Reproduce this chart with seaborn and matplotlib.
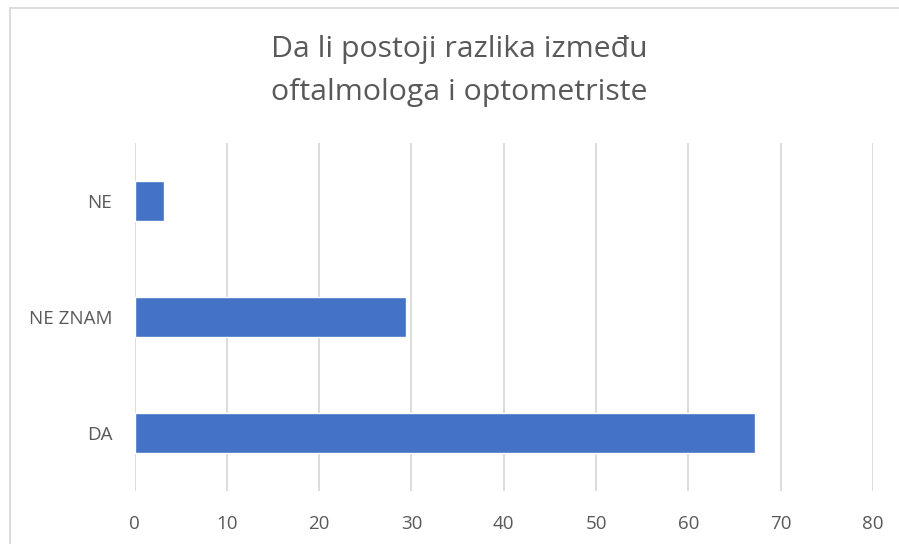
import matplotlib
matplotlib.use("Agg")
import matplotlib.pyplot as plt
from matplotlib.patches import Rectangle
import seaborn as sns
import pandas as pd

# data
categories = ["NE", "NE ZNAM", "DA"]
values = [3.2, 29.45, 67.2]
x_ticks = [0, 10, 20, 30, 40, 50, 60, 70, 80]

sns.set_style("white")
plt.rcParams["font.family"] = ["Open Sans", "DejaVu Sans"]

df = pd.DataFrame({"odgovor": categories, "broj": values})

W, H = 899, 544
fig = plt.figure(figsize=(W / 100, H / 100), dpi=100)
ax = fig.add_axes([134.5 / W, 1 - 491 / H, (873 - 134.5) / W, (491 - 143) / H])

sns.barplot(data=df, x="broj", y="odgovor", color="#4472C4", width=0.345,
            saturation=1, ax=ax)

ax.set_xlim(0, 80)
ax.set_xticks(x_ticks)
ax.grid(axis="x", color="#D9D9D9", linewidth=1.3)
ax.set_axisbelow(True)
for s in ax.spines.values():
    s.set_visible(False)
ax.set_xlabel("")
ax.set_ylabel("")
ax.tick_params(axis="both", length=0, labelsize=13.5, colors="#595959")
ax.tick_params(axis="y", pad=16)
ax.tick_params(axis="x", pad=17)

fig.text(459 / W, 1 - 71 / H, "Da li postoji razlika između\noftalmologa i optometriste",
         ha="center", va="center", fontsize=21.8, color="#595959", linespacing=1.68)

# chart border
fig.add_artist(Rectangle((9.5 / W, -0.05), 1.0, 1 - 7.5 / H + 0.05,
                         transform=fig.transFigure, fill=False,
                         edgecolor="#D9D9D9", linewidth=1.3))

fig.savefig("out.png", dpi=100, facecolor="white")
